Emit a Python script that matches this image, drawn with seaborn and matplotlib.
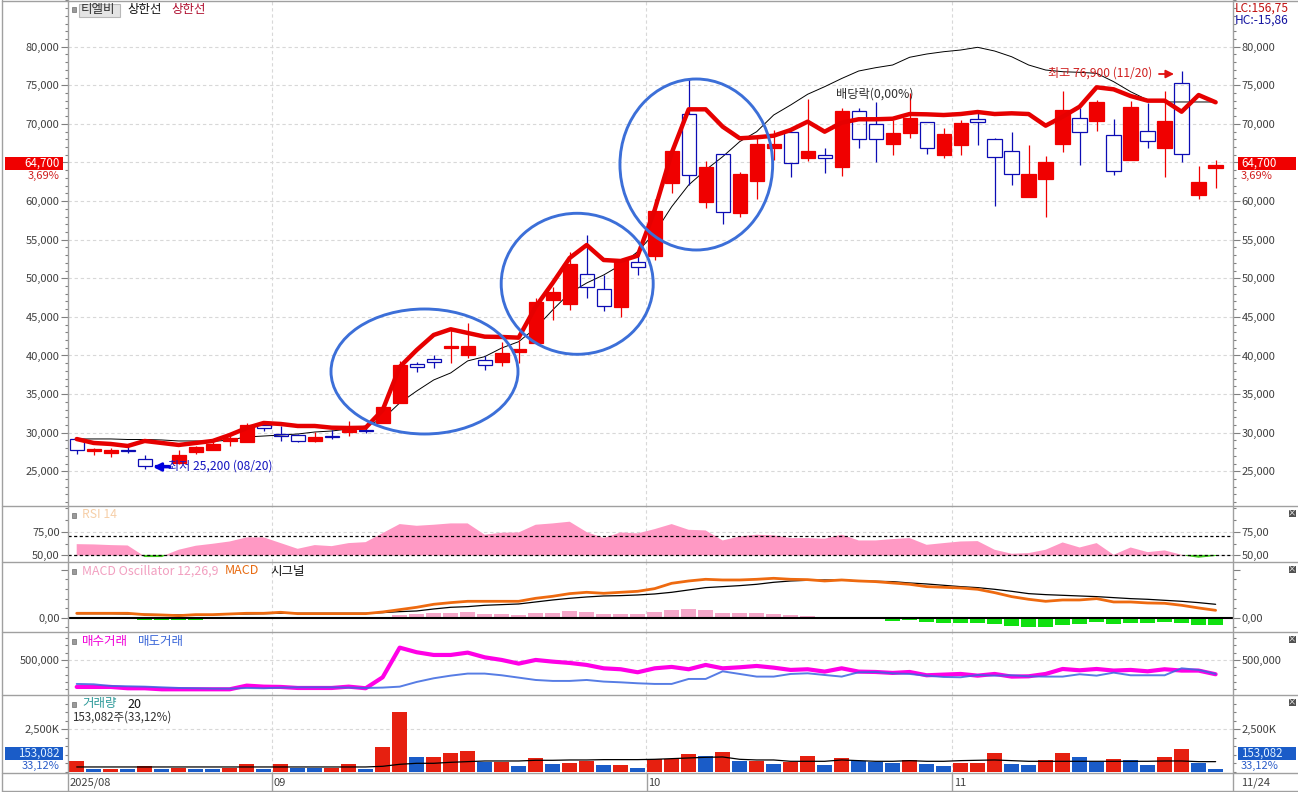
import matplotlib
matplotlib.use("Agg")
import matplotlib.pyplot as plt
import numpy as np
import pandas as pd
import seaborn as sns
from matplotlib.patches import Ellipse, Rectangle
from matplotlib.ticker import MultipleLocator

# candles
opens = [29180, 27580, 27360, 27750, 26590, 25800, 26070, 27450, 27710, 28960, 28750, 30990, 29870, 29700, 28880, 29570, 30130, 30390,
         31300, 33800, 38900, 39600, 40970, 40070, 39380, 39160, 40490, 41660, 47190, 46670, 50520, 48580, 46280, 52070, 52930, 62390,
         71240, 59920, 66060, 58500, 62640, 66920, 68910, 65620, 65930, 64460, 71630, 69950, 67430, 68860, 70210, 66010, 67310, 70600,
         68010, 66450, 60570, 62900, 67440, 70730, 70410, 68520, 65320, 69040, 66920, 75260, 60830, 64330]
closes = [27710, 27930, 27800, 27620, 25720, 25700, 27150, 28140, 28570, 29270, 31000, 30600, 29570, 28880, 29440, 29400, 30300, 30260,
          33350, 38800, 38470, 39100, 41270, 41230, 38810, 40290, 40800, 46930, 48230, 51850, 48910, 46450, 52370, 51500, 58720, 66490,
          63340, 64420, 58550, 63470, 67400, 67400, 64900, 66490, 65540, 71670, 68080, 68080, 68780, 70730, 66840, 68650, 70120, 70210,
          65670, 63470, 63470, 65070, 71800, 68910, 72840, 63860, 72190, 67750, 70380, 66060, 62440, 64700]
highs = [29440, 28050, 27970, 28440, 27150, 25900, 27800, 28300, 29090, 29740, 31250, 31550, 30820, 29870, 30040, 30390, 31510, 31040,
         33350, 39300, 39150, 40070, 43300, 44170, 39980, 41790, 42010, 47410, 48910, 53370, 55610, 50430, 52400, 53670, 60230, 66500,
         75910, 65200, 66060, 63770, 68130, 69210, 68950, 73230, 66840, 72020, 72060, 72800, 70500, 73960, 70250, 69470, 70500, 71720,
         68140, 68910, 67230, 65840, 74260, 72020, 73060, 70640, 73000, 72670, 74260, 76900, 64550, 65320]
lows = [27280, 27150, 26850, 27360, 25290, 25200, 26000, 27280, 27710, 28320, 28750, 30170, 28880, 28790, 28750, 29180, 29520, 29960,
        31250, 33800, 37900, 38380, 39070, 39640, 38120, 38640, 39030, 41620, 44600, 45900, 47450, 45770, 45030, 50430, 52370, 61090,
        62090, 59150, 57040, 57980, 60310, 65320, 63160, 65230, 63680, 63290, 66920, 65100, 65970, 68210, 66140, 65620, 66010, 67310,
        59400, 62120, 60570, 57980, 66360, 64720, 69120, 63420, 65280, 66920, 63160, 65100, 60310, 61740]

# the two band lines on the price panel
upper_red = [29180, 28670, 28540, 28280, 28930, 28670, 28410, 28670, 28930, 29700, 30610, 31260, 31130, 30870, 30870, 30650, 30610, 30650,
             32940, 38510, 40710, 42660, 43400, 42920, 42440, 42400, 42310, 46320, 49390, 52630, 54310, 52370, 52240, 52930, 58850, 66230,
             71890, 71890, 69640, 68140, 68260, 68470, 69210, 70290, 68990, 70160, 70600, 70600, 70670, 71280, 71240, 71150, 71280, 71540,
             71280, 71370, 71280, 69770, 70930, 72230, 74740, 74480, 73610, 73010, 73010, 71580, 73740, 72800]
upper_black = [29190, 29190, 29190, 29120, 29120, 29060, 28930, 28930, 28860, 29060, 29450, 29570, 29700, 29830, 30090, 30220, 30480, 30870,
               31780, 33850, 35400, 36830, 37740, 39300, 39850, 40970, 41790, 43560, 45900, 48100, 49390, 50430, 51720, 53450, 55870, 59270,
               62090, 64030, 65750, 67700, 68990, 71150, 72450, 73840, 74820, 75880, 76850, 77280, 77630, 78630, 79050, 79350, 79570, 79920,
               79440, 78700, 77630, 76980, 76760, 76680, 76550, 75470, 74170, 73100, 72840, 72840, 72840, 72840]

rsi = [61.9, 61.6, 60.9, 60.5, 48.9, 48.9, 56, 60.2, 62.3, 64.7, 69, 69, 63, 57, 60.9, 59.8, 63, 64,
       73.5, 83, 81.2, 82.3, 83.7, 83.7, 71.8, 73.9, 74.2, 82.3, 83.7, 85.5, 74.6, 68.3, 74.2, 73.2, 77.7, 83,
       77, 76.3, 65.8, 70, 71.8, 71.1, 68.3, 68.3, 67.6, 71.8, 65.8, 65.8, 67.2, 68.3, 61.2, 63, 64.7, 65.1,
       56, 51.8, 52.5, 56, 63.7, 58.4, 63, 50.7, 58.4, 53.5, 55.3, 50.7, 48.2, 50]

# macd panel has no scale apart from the zero line, so these are in picture units
macd_line = [13, 13, 13, 13, 9, 8, 6, 9, 9, 11, 13, 13, 16, 12, 12, 12, 12, 12,
             17, 24, 31, 40, 45, 49, 49, 49, 49, 58, 64, 72, 76, 73, 76, 79, 87, 103,
             110, 115, 113, 113, 115, 118, 115, 114, 110, 113, 110, 108, 104, 100, 93, 91, 89, 85,
             75, 63, 55, 49, 53, 53, 57, 47, 47, 44, 43, 37, 29, 22]
signal_line = [12, 12, 12, 11, 10, 9, 8, 9, 9, 10, 11, 12, 13, 13, 13, 13, 13, 13,
               15, 18, 20, 26, 31, 33, 37, 39, 41, 47, 53, 58, 62, 65, 66, 68, 71, 76,
               83, 90, 93, 96, 100, 106, 110, 112, 113, 113, 110, 109, 108, 104, 101, 97, 93, 90,
               85, 79, 72, 69, 67, 65, 63, 60, 57, 55, 52, 49, 45, 40]
oscillator = [0, 0, 0, 0, -7, -7, -7, -7, 0, 0, 0, 0, 0, 0, 0, 0, 0, 0,
              0, 8, 11, 14, 14, 17, 11, 11, 8, 14, 14, 20, 17, 11, 11, 11, 17, 23,
              26, 23, 14, 14, 14, 11, 8, 4, 0, 0, -3, -5, -9, -8, -13, -16, -16, -16,
              -19, -25, -28, -28, -22, -19, -12, -19, -16, -17, -12, -16, -22, -22]

# buy and sell trades, thousands
buy_trades = [132, 132, 132, 114, 114, 100, 100, 100, 100, 100, 150, 136, 132, 118, 118, 118, 136, 114,
              264, 668, 605, 568, 568, 600, 536, 500, 450, 500, 477, 459, 432, 386, 373, 332, 386, 405,
              373, 432, 386, 400, 418, 395, 364, 373, 341, 386, 341, 336, 323, 336, 291, 300, 309, 286,
              309, 273, 277, 309, 377, 359, 377, 355, 364, 345, 373, 355, 355, 305]
sell_trades = [173, 168, 145, 141, 136, 127, 118, 114, 109, 109, 118, 114, 123, 127, 127, 127, 123, 118,
               123, 136, 200, 250, 286, 314, 314, 291, 259, 227, 214, 214, 227, 205, 195, 182, 173, 173,
               241, 241, 345, 309, 273, 273, 309, 318, 295, 273, 332, 336, 318, 309, 286, 268, 264, 295,
               286, 291, 277, 273, 273, 305, 286, 327, 291, 291, 291, 386, 364, 309]

# volume, thousands
volume = [644, 176, 176, 176, 352, 176, 254, 176, 176, 254, 469, 176, 469, 254, 254, 254, 469, 176,
          1465, 3515, 879, 879, 1113, 1230, 605, 605, 352, 820, 469, 527, 644, 410, 410, 234, 742, 781,
          1055, 937, 1172, 644, 644, 469, 605, 937, 410, 820, 644, 605, 527, 703, 469, 352, 527, 527,
          1113, 469, 410, 703, 1113, 879, 605, 761, 703, 410, 879, 1348, 527, 153]
volume_up = [1, 0, 1, 0, 1, 0, 1, 0, 0, 1, 1, 0, 1, 0, 0, 1, 1, 0,
             1, 1, 0, 1, 1, 1, 0, 1, 0, 1, 0, 1, 1, 0, 1, 0, 1, 1,
             1, 0, 1, 0, 1, 0, 1, 1, 0, 1, 0, 0, 0, 1, 0, 0, 1, 1,
             1, 0, 0, 1, 1, 0, 0, 1, 0, 0, 1, 1, 0, 0]
volume_ma = [293, 293, 293, 293, 293, 293, 293, 293, 293, 293, 293, 293, 293, 293, 293, 293, 293, 293,
             332, 449, 508, 508, 566, 605, 644, 644, 644, 684, 684, 703, 703, 723, 723, 723, 742, 781,
             820, 859, 879, 742, 703, 703, 625, 625, 625, 703, 664, 625, 625, 664, 625, 625, 664, 684,
             703, 664, 625, 625, 625, 625, 625, 625, 625, 625, 644, 644, 605, 605]

price_ticks = [25000, 30000, 35000, 40000, 45000, 50000, 55000, 60000, 65000, 70000, 75000, 80000]
month_edges = [11.5, 33.5, 51.5]

RED = "#f00000"
BLUE = "#0c0cb4"
GRID = "#d8d8d8"
FRAME = "#a0a0a0"
TICK = "#808080"
TEXT = "#404040"

sns.set_theme(style="white")
plt.rcParams['font.family'] = ['Noto Sans CJK KR', 'DejaVu Sans']
plt.rcParams['axes.unicode_minus'] = False

W, H = 1298, 792
fig = plt.figure(figsize=(W / 100, H / 100), dpi=100, facecolor="white")
idx = np.arange(len(closes))


def make_panel(top, bottom, ylim, ticks, labels, minor):
    ax = fig.add_axes([68 / W, 1 - bottom / H, (1233.3 - 68) / W, (bottom - top) / H])
    return ax, ylim, ticks, labels, minor


def finish_panel(ax, ylim, ticks, labels, minor):
    ax.set_xlim(-0.512, 68.04)
    ax.set_ylim(*ylim)
    ax.set_xticks(month_edges)
    ax.set_xticklabels([])
    ax.set_xlabel("")
    ax.set_ylabel("")
    ax.set_yticks(ticks)
    ax.set_yticklabels(labels)
    ax.yaxis.set_minor_locator(MultipleLocator(minor))
    ax.tick_params(axis="x", length=0)
    ax.tick_params(axis="y", which="major", left=True, right=True, labelleft=True, labelright=True,
                   length=5, width=0.8, color=TICK, labelsize=8, labelcolor=TEXT, pad=1)
    ax.tick_params(axis="y", which="minor", left=True, right=True, length=2, width=0.8, color=TICK)
    ax.grid(True, axis="both", which="major", color=GRID, linestyle=(0, (3, 2.5)), linewidth=0.8)
    ax.set_axisbelow(True)
    for s in ax.spines.values():
        s.set_visible(False)
    ax.patch.set_alpha(0)


# price panel, the 65,000 label sits under the red price tag in the original
main = make_panel(0, 505.9, (20518, 86049), price_ticks, ["" if p == 65000 else f"{p:,}" for p in price_ticks], 1000)
ax = main[0]
sns.lineplot(x=idx, y=upper_black, ax=ax, color="black", linewidth=0.7, estimator=None, legend=False, zorder=2)
for i in idx:
    up = closes[i] >= opens[i]
    top, bot = max(opens[i], closes[i]), min(opens[i], closes[i])
    col = RED if up else BLUE
    ax.vlines(i, top, highs[i], color=col, linewidth=0.9, zorder=3)
    ax.vlines(i, lows[i], bot, color=col, linewidth=0.9, zorder=3)
    ax.bar(i, top - bot, bottom=bot, width=0.84, facecolor=RED if up else "none", edgecolor=col, linewidth=0.9, zorder=3)
sns.lineplot(x=idx, y=upper_red, ax=ax, color="#e60000", linewidth=3.2, estimator=None, legend=False, zorder=4,
             solid_joinstyle="round", solid_capstyle="round")
finish_panel(*main)

# rsi panel
rsi_p = make_panel(506, 562.3, (42.8, 102), [50, 75], ["50,00", "75,00"], 12.5)
ax = rsi_p[0]
ax.fill_between(idx, 50, rsi, where=np.array(rsi) >= 50, interpolate=True, color="#ff99c4", linewidth=0, zorder=2)
ax.fill_between(idx, 50, rsi, where=np.array(rsi) <= 50, interpolate=True, color="#44cc22", linewidth=0.8, zorder=2)
ax.axhline(70, color="black", linewidth=0.9, linestyle=(0, (2.5, 2)), zorder=3)
ax.axhline(50, color="black", linewidth=0.9, linestyle=(0, (2.5, 2)), zorder=3)
finish_panel(*rsi_p)

# macd panel
macd_p = make_panel(562.3, 632.3, (-44, 166), [0, 143], ["0,00", ""], 28.6)
ax = macd_p[0]
df_osc = pd.DataFrame({"i": idx, "osc": oscillator, "up": ["up" if v >= 0 else "down" for v in oscillator]})
sns.barplot(data=df_osc, x="i", y="osc", hue="up", palette={"up": "#f4a6c8", "down": "#10e010"}, native_scale=True,
            dodge=False, width=0.88, saturation=1, legend=False, ax=ax, linewidth=0, zorder=2)
sns.lineplot(x=idx, y=signal_line, ax=ax, color="black", linewidth=0.9, estimator=None, legend=False, zorder=3)
sns.lineplot(x=idx, y=macd_line, ax=ax, color="#ee6a10", linewidth=2.0, estimator=None, legend=False, zorder=4)
ax.axhline(0, color="black", linewidth=1.5, zorder=5)
finish_panel(*macd_p)
ax.grid(False, axis="y")

# buy / sell trades
trade_p = make_panel(632.3, 695.3, (18, 877), [500], ["500,000"], 100)
ax = trade_p[0]
sns.lineplot(x=idx, y=buy_trades, ax=ax, color="#ff00e6", linewidth=3.0, estimator=None, legend=False, zorder=3)
sns.lineplot(x=idx, y=sell_trades, ax=ax, color="#3a66e0", linewidth=1.4, alpha=0.85, estimator=None, legend=False, zorder=4)
finish_panel(*trade_p)

# volume
vol_p = make_panel(695.3, 773.3, (-78, 4492), [2500], ["2,500K"], 500)
ax = vol_p[0]
df_vol = pd.DataFrame({"i": idx, "vol": volume, "up": ["up" if v else "down" for v in volume_up]})
sns.barplot(data=df_vol, x="i", y="vol", hue="up", palette={"up": "#e62010", "down": "#1a5cc8"}, native_scale=True,
            dodge=False, width=0.88, saturation=1, legend=False, ax=ax, linewidth=0, zorder=2)
sns.lineplot(x=idx, y=volume_ma, ax=ax, color="black", linewidth=0.9, estimator=None, legend=False, zorder=3)
finish_panel(*vol_p)

# overlay in picture pixels for the frame, drawn circles and captions
ov = fig.add_axes([0, 0, 1, 1], zorder=20)
ov.set_xlim(0, W)
ov.set_ylim(H, 0)
ov.axis("off")

for y in [0.5, 506, 562.3, 632.3, 695.3, 773.3, 791.3]:
    ov.plot([1.5, W], [y, y], color=FRAME, linewidth=1)
for x in [1.5, 67.5, 1233.3]:
    ov.plot([x, x], [0, 791.3], color=FRAME, linewidth=1)
for x in [272.3, 646.7, 952.3]:
    ov.plot([x, x], [773.3, 791.3], color=FRAME, linewidth=1)

for cx, cy, w, h in [(424.5, 371.5, 187, 125), (577.2, 283.8, 152, 141), (696.3, 164.5, 152.7, 171)]:
    ov.add_patch(Ellipse((cx, cy), w, h, fill=False, edgecolor="#3c6fd8", linewidth=2.1))


def label(x, y, s, color=TEXT, size=9, **kw):
    ov.text(x, y, s, color=color, fontsize=size, va="center", ha="left", **kw)


# panel markers
for y in [9, 515, 571, 641, 704]:
    ov.add_patch(Rectangle((71.5, y - 2.5), 4.5, 5, facecolor="#9a9a9a", edgecolor="#707070", linewidth=0.5))
for y in [513.5, 569.7, 639.7, 702.7]:
    ov.add_patch(Rectangle((1288.5, y - 3.5), 7, 7, facecolor="#505050", edgecolor="none"))
    ov.text(1292, y - 0.3, "×", color="white", fontsize=6, ha="center", va="center")

ov.add_patch(Rectangle((78.5, 3.5), 41.5, 13, facecolor="#e4e4e4", edgecolor="#b8b8b8", linewidth=0.8))
label(81, 9.5, "티엘비", color="#303030")
label(127, 9, "상한선", color="#111111")
label(171, 9, "상한선", color="#b01030")
label(1234.5, 8, "LC:156,75", color="#c01010", size=8.6)
label(1234.5, 20, "HC:-15,86", color="#1414a0", size=8.6)

label(82, 515, "RSI 14", color="#f6cfa8", size=8.8)
label(82, 571, "MACD Oscillator 12,26,9", color="#f29fc0", size=8.9)
label(225, 571, "MACD", color="#e86a10", size=9)
label(270, 571, "시그널", color="#111111")
label(82, 641, "매수거래", color="#f000d8")
label(138, 641, "매도거래", color="#3a66d8")
label(82, 704, "거래량", color="#2f9a9a")
label(127, 704, "20", color="#111111")
label(72, 717, "153,082주(33,12%)", color="#303030", size=8.3)

label(836, 94, "배당락(0,00%)", color="#303030", size=8.8)
label(1048, 73.5, "최고 76,900 (11/20)", color="#d02020", size=8.7)
label(168, 466.5, "최저 25,200 (08/20)", color="#1414c0", size=8.7)
ov.annotate("", xy=(1174, 74), xytext=(1159, 74), arrowprops=dict(arrowstyle="-|>", color="#e01010", lw=1.3, shrinkA=0, shrinkB=0))
ov.annotate("", xy=(153, 467), xytext=(170, 467), arrowprops=dict(arrowstyle="-|>", color="#0000e0", lw=2, shrinkA=0, shrinkB=0))

# value tags, right aligned on the left axis and left aligned on the right axis
for x0, tx, ha in [(5, 60, "right"), (1238, 1241, "left")]:
    ov.add_patch(Rectangle((x0, 156.7), 58, 12.8, facecolor="#f00000", edgecolor="none"))
    ov.text(tx, 163, "64,700", color="white", fontsize=8.3, ha=ha, va="center")
    ov.text(tx, 175.5, "3,69%", color="#d02020", fontsize=8, ha=ha, va="center")
    ov.add_patch(Rectangle((x0, 747.3), 58, 12.8, facecolor="#1a5cc8", edgecolor="none"))
    ov.text(tx, 753.5, "153,082", color="#dff0ff", fontsize=8.3, ha=ha, va="center")
    ov.text(tx, 766, "33,12%", color="#2a5cc8", fontsize=8, ha=ha, va="center")

for x, s in [(69.5, "2025/08"), (274, "09"), (648.5, "10"), (954, "11"), (1241, "11/24")]:
    label(x, 782.5, s, color=TEXT, size=8)

fig.savefig("out.png", dpi=100)
